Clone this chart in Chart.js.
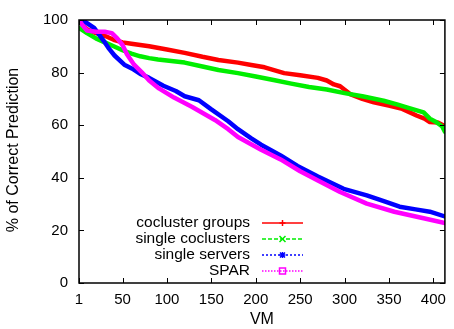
<!DOCTYPE html>
<html>
<head>
<meta charset="utf-8">
<script src="https://cdn.jsdelivr.net/npm/chart.js@4"></script>
<style>
  html, body { margin: 0; padding: 0; background: #fff; }
  #wrap { width: 454px; height: 329px; }
</style>
</head>
<body>
<div id="wrap"><canvas id="c" width="454" height="329"></canvas></div>
<script>
// values (VM index, % correct)
const seriesNames = ["cocluster groups", "single coclusters", "single servers", "SPAR"];
const seriesColors = ["#ff0000", "#00ee00", "#0000ff", "#ff00ff"];

const coclusterVM = [1, 5, 10, 20, 30, 40, 50, 60, 70, 80, 100, 120, 140, 158, 180, 195, 210, 232, 250, 270, 280, 288, 295, 307, 320, 333, 351, 365, 381, 390, 396, 405, 411, 413];
const coclusterPct = [100, 98, 96.5, 95, 94, 92.5, 91.5, 91, 90.5, 90, 88.8, 87.5, 86, 84.8, 83.8, 82.9, 82, 79.8, 79, 78, 77, 75.5, 74.8, 71.7, 70, 68.7, 67.4, 66.2, 63.7, 62.5, 61.2, 61, 60, 59.2];

const singleCoVM = [1, 10, 20, 30, 40, 50, 60, 70, 80, 90, 100, 120, 140, 158, 180, 200, 220, 240, 260, 280, 300, 320, 344, 360, 370, 389, 396, 403, 410, 413];
const singleCoPct = [97, 95, 93, 91.5, 90, 88.5, 87.2, 86.2, 85.5, 85, 84.6, 83.8, 82.3, 81, 79.8, 78.5, 77.2, 75.8, 74.5, 73.6, 72.2, 71, 69.3, 67.8, 66.8, 64.9, 62.5, 61.2, 59.5, 57.5];

const serversVM = [1, 7, 18, 29, 35, 41, 52, 61, 70, 80, 96, 110, 120, 136, 150, 169, 180, 195, 206, 228, 247, 270, 299, 325, 345, 362, 380, 396, 413];
const serversPct = [100, 99.5, 97, 92, 89, 86.5, 83, 81.5, 79.5, 78, 75, 73, 71, 69.5, 66, 61.5, 58.5, 55, 52.6, 48.5, 44.5, 40.5, 35.8, 33.3, 31, 29, 28, 27.1, 25.3];

const sparVM = [1, 5, 10, 20, 30, 38, 44, 50, 55, 63, 72, 80, 91, 108, 128, 154, 169, 180, 206, 228, 250, 270, 295, 325, 356, 389, 413];
const sparPct = [100, 98, 96, 95.5, 95.5, 95, 93, 90.5, 87, 83, 80, 77, 74, 70.5, 67, 62, 58.5, 55.5, 50.7, 47, 42.5, 39, 34.6, 30.2, 27.1, 24.6, 22.8];

const xTickValues = [1, 50, 100, 150, 200, 250, 300, 350, 400];
const yTickValues = [0, 20, 40, 60, 80, 100];

const FONT = "'Liberation Sans', Arial, sans-serif";

function pts(xs, ys) {
  return xs.map((x, i) => ({ x: x, y: ys[i] }));
}

const allX = [coclusterVM, singleCoVM, serversVM, sparVM];
const allY = [coclusterPct, singleCoPct, serversPct, sparPct];

const datasets = seriesNames.map((name, i) => ({
  label: name,
  data: pts(allX[i], allY[i]),
  borderColor: seriesColors[i],
  backgroundColor: seriesColors[i],
  borderWidth: 4.5,
  pointRadius: 0,
  borderJoinStyle: "round",
  borderCapStyle: "round",
  tension: 0,
  order: 4 - i
}));

// frame, inward ticks on all sides, titles and the gnuplot style key
const decor = {
  id: "decor",
  afterDraw(chart) {
    const ctx = chart.ctx;
    const a = chart.chartArea;
    const xs = chart.scales.x, ys = chart.scales.y;
    ctx.save();
    ctx.strokeStyle = "#000";
    ctx.lineWidth = 1.5;
    ctx.strokeRect(a.left, a.top, a.right - a.left, a.bottom - a.top);
    ctx.lineWidth = 1;
    ctx.beginPath();
    xTickValues.forEach(v => {
      const px = Math.round(xs.getPixelForValue(v)) + 0.5;
      ctx.moveTo(px, a.bottom); ctx.lineTo(px, a.bottom - 5);
      ctx.moveTo(px, a.top); ctx.lineTo(px, a.top + 5);
    });
    yTickValues.forEach(v => {
      const py = Math.round(ys.getPixelForValue(v)) + 0.5;
      ctx.moveTo(a.left, py); ctx.lineTo(a.left + 5, py);
      ctx.moveTo(a.right, py); ctx.lineTo(a.right - 5, py);
    });
    ctx.stroke();

    ctx.fillStyle = "#000";
    ctx.font = "16px " + FONT;
    ctx.textAlign = "center";
    ctx.textBaseline = "middle";
    ctx.fillText("VM", (a.left + a.right) / 2, 320);
    ctx.save();
    ctx.translate(14, 150);
    ctx.rotate(-Math.PI / 2);
    ctx.fillText("% of Correct Prediction", 0, 0);
    ctx.restore();

    // key
    const rows = [223, 239, 255, 271];
    ctx.font = "15.5px " + FONT;
    ctx.textAlign = "right";
    const dashes = [[], [4, 2], [2, 2], [1.5, 1.5]];
    rows.forEach((ry, i) => {
      ctx.fillStyle = "#000";
      ctx.fillText(seriesNames[i], 250, ry);
      ctx.strokeStyle = seriesColors[i];
      ctx.lineWidth = 1.5;
      ctx.setLineDash(dashes[i]);
      ctx.beginPath();
      ctx.moveTo(262, ry); ctx.lineTo(303, ry);
      ctx.stroke();
      ctx.setLineDash([]);
      const mx = 282.5, my = ry;
      ctx.beginPath();
      if (i === 0) {
        ctx.moveTo(mx - 3, my); ctx.lineTo(mx + 3, my);
        ctx.moveTo(mx, my - 3); ctx.lineTo(mx, my + 3);
      } else if (i === 1) {
        ctx.moveTo(mx - 3, my - 3); ctx.lineTo(mx + 3, my + 3);
        ctx.moveTo(mx - 3, my + 3); ctx.lineTo(mx + 3, my - 3);
      } else if (i === 2) {
        ctx.moveTo(mx - 3, my); ctx.lineTo(mx + 3, my);
        ctx.moveTo(mx, my - 3); ctx.lineTo(mx, my + 3);
        ctx.moveTo(mx - 2.5, my - 2.5); ctx.lineTo(mx + 2.5, my + 2.5);
        ctx.moveTo(mx - 2.5, my + 2.5); ctx.lineTo(mx + 2.5, my - 2.5);
      } else {
        ctx.rect(mx - 3, my - 3, 6, 6);
      }
      ctx.lineWidth = 1.5;
      ctx.stroke();
    });
    ctx.restore();
  }
};

new Chart(document.getElementById("c"), {
  type: "line",
  data: { datasets: datasets },
  options: {
    responsive: false,
    animation: false,
    layout: { padding: { left: 0, right: 4, top: 13, bottom: 0 } },
    plugins: { legend: { display: false }, tooltip: { enabled: false } },
    scales: {
      x: {
        type: "linear",
        min: 1,
        max: 413,
        afterBuildTicks: s => { s.ticks = xTickValues.map(v => ({ value: v })); },
        afterFit: s => { s.height = 46; },
        grid: { display: false, drawTicks: false },
        border: { display: false },
        ticks: { color: "#000", font: { family: FONT, size: 15 }, padding: 8, maxRotation: 0, autoSkip: false }
      },
      y: {
        min: 0,
        max: 100,
        afterBuildTicks: s => { s.ticks = yTickValues.map(v => ({ value: v })); },
        afterFit: s => { s.width = 79; },
        grid: { display: false, drawTicks: false },
        border: { display: false },
        ticks: { color: "#000", font: { family: FONT, size: 15 }, padding: 11 }
      }
    }
  },
  plugins: [decor]
});
</script>
</body>
</html>
